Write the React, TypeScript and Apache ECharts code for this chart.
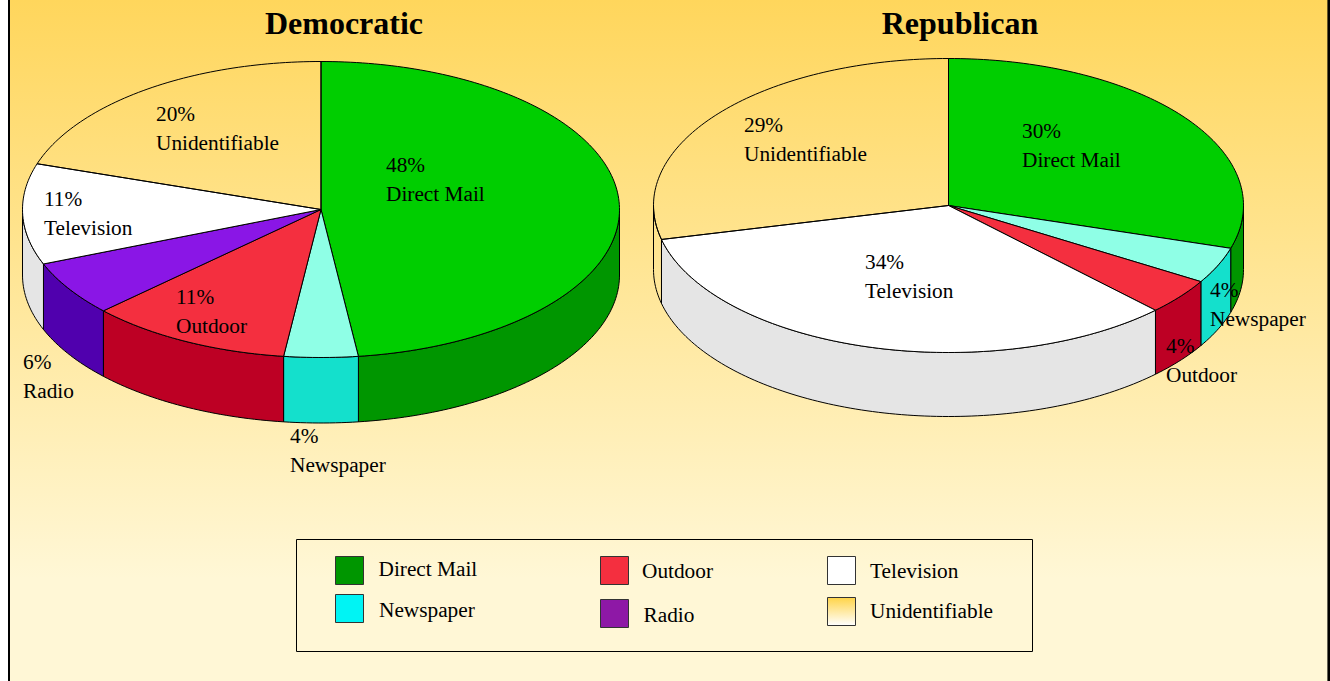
import React, { useEffect, useRef } from "react";
import * as echarts from "echarts";

const categories = ["Direct Mail", "Newspaper", "Outdoor", "Radio", "Television", "Unidentifiable"];
const democraticValues = [48, 4, 11, 6, 11, 20];
const republicanValues = [30, 4, 4, 0, 34, 29];
const pieTitles = ["Democratic", "Republican"];

const FONT = '"Liberation Serif", "Times New Roman", serif';
const LABEL_FONT = `21.3px ${FONT}`;
const topColors = ["#00CE00", "#8FFFE6", "#F42F3F", "#8A16E6", "#FFFFFF", "rgba(0,0,0,0)"];
const wallColors = ["#009600", "#14E0CC", "#BD0024", "#5000AE", "#E5E5E5", "rgba(0,0,0,0)"];
const legendColors: any[] = ["#009600", "#00F4F4", "#F42F3F", "#8E18A6", "#FFFFFF",
  { type: "linear", x: 0, y: 0, x2: 0, y2: 1, colorStops: [{ offset: 0, color: "#FFD448" }, { offset: 1, color: "#FFFFFF" }] }];

const pies = [
  { cx: 321, cy: 209.5, rx: 298.5, ry: 148, depth: 65.5, titleX: 344,
    labels: [[386, 165], [290, 436], [176, 297], [23, 362], [44, 199], [156, 114]] },
  { cx: 948.5, cy: 205.5, rx: 295, ry: 147, depth: 64, titleX: 960,
    labels: [[1022, 131], [1210, 290], [1166, 346], [0, 0], [865, 262], [744, 125]] },
];

const legendPos = [
  [335, 556, 378.5, 569], [335, 594, 379, 610], [600, 556, 642, 571],
  [600, 599, 643.5, 615], [827, 556, 870, 571], [827, 597, 870, 611],
];

// angle t is clockwise from the top of the ellipse
function pt(p: any, t: number, dy = 0) {
  return [p.cx + p.rx * Math.sin(t), p.cy - p.ry * Math.cos(t) + dy];
}

function arcPoints(p: any, a: number, b: number, dy = 0) {
  const n = Math.max(2, Math.ceil(Math.abs(b - a) / 0.02));
  const pts = [];
  for (let i = 0; i <= n; i++) pts.push(pt(p, a + ((b - a) * i) / n, dy));
  return pts;
}

function makeRender(p: any, values: number[]) {
  const total = values.reduce((s, v) => s + v, 0);
  const starts: number[] = [];
  let acc = 0;
  values.forEach((v) => { starts.push((acc / total) * Math.PI * 2); acc += v; });
  return (params: any, api: any) => {
    const i = params.dataIndex;
    const v = api.value(0);
    if (!v) return { type: "group", children: [] };
    const a = starts[i];
    const b = a + (v / total) * Math.PI * 2;
    const children: any[] = [];
    const wa = Math.max(a, Math.PI / 2);
    const wb = Math.min(b, (3 * Math.PI) / 2);
    if (wb > wa) {
      const front = arcPoints(p, wa, wb);
      const back = arcPoints(p, wb, wa, p.depth);
      children.push({
        type: "polygon", shape: { points: [...front, ...back] },
        style: { fill: wallColors[i], stroke: "#000", lineWidth: 1 },
      });
    }
    children.push({
      type: "polygon", shape: { points: [[p.cx, p.cy], ...arcPoints(p, a, b)] },
      style: { fill: topColors[i], stroke: "#000", lineWidth: 1 },
    });
    const [lx, ly] = p.labels[i];
    children.push({
      type: "text", z2: 50,
      style: { x: lx, y: ly, text: `${v}%`, fill: "#000", font: LABEL_FONT, textVerticalAlign: "middle" },
    });
    children.push({
      type: "text", z2: 50,
      style: { x: lx, y: ly + 28.5, text: categories[i], fill: "#000", font: LABEL_FONT, textVerticalAlign: "middle" },
    });
    return { type: "group", children };
  };
}

export default function App() {
  const ref = useRef<HTMLDivElement>(null);
  useEffect(() => {
    const chart = echarts.init(ref.current!, null, { renderer: "svg" });
    const sets = [democraticValues, republicanValues];
    chart.setOption({
      animation: false,
      backgroundColor: "#FFFFFF",
      series: sets.map((vals, k) => ({
        type: "custom",
        coordinateSystem: "none",
        silent: true,
        z: 5,
        data: vals.map((v) => [v]),
        renderItem: makeRender(pies[k], vals),
      })),
      graphic: [
        {
          type: "rect", silent: true, z: -10,
          shape: { x: 9, y: 0, width: 1321, height: 681 },
          style: {
            fill: { type: "linear", x: 0, y: 0, x2: 0, y2: 1, colorStops: [
              { offset: 0, color: "#FFD65C" }, { offset: 0.85, color: "#FFF7D6" }, { offset: 1, color: "#FFF7D6" },
            ] },
          },
        },
        { type: "rect", silent: true, z: -9, shape: { x: 8, y: 0, width: 2, height: 681 }, style: { fill: "#000" } },
        { type: "rect", silent: true, z: -9, shape: { x: 1327.4, y: 0, width: 2.6, height: 681 }, style: { fill: "#000" } },
        ...pieTitles.map((t, k) => ({
          type: "text", silent: true, z: 20,
          style: { x: pies[k].titleX, y: 22.5, text: t, fill: "#000", font: `bold 32px ${FONT}`, textAlign: "center", textVerticalAlign: "middle" },
        })),
        {
          type: "rect", silent: true, z: 10,
          shape: { x: 296.5, y: 539.5, width: 736, height: 112 },
          style: { fill: "rgba(0,0,0,0)", stroke: "#000", lineWidth: 1 },
        },
        ...categories.flatMap((c, i) => [
          {
            type: "rect", silent: true, z: 11,
            shape: { x: legendPos[i][0] + 0.5, y: legendPos[i][1] + 0.5, width: 28, height: 28 },
            style: { fill: legendColors[i], stroke: "#333", lineWidth: 1 },
          },
          {
            type: "text", silent: true, z: 11,
            style: { x: legendPos[i][2], y: legendPos[i][3], text: c, fill: "#000", font: LABEL_FONT, textVerticalAlign: "middle" },
          },
        ]),
      ],
    });
    return () => chart.dispose();
  }, []);
  return <div ref={ref} style={{ position: "absolute", left: 0, top: 0, width: 1330, height: 681 }} />;
}
